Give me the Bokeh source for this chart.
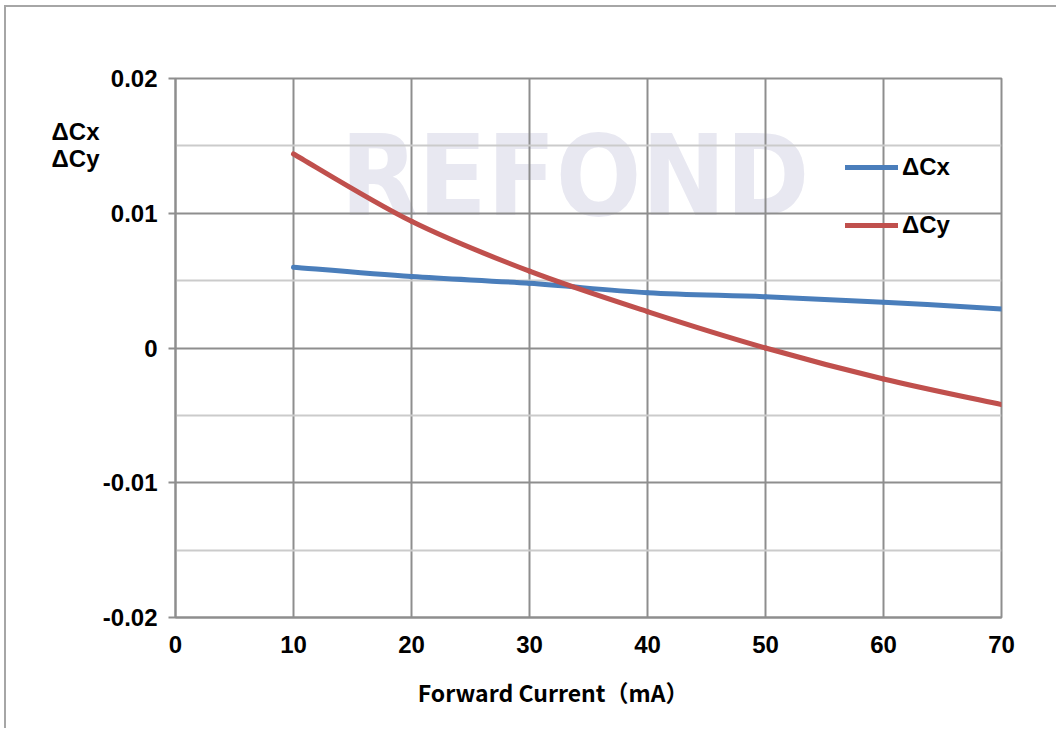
from bokeh.plotting import figure
from bokeh.models import Range1d, FixedTicker, Label, Legend, LegendItem, LinearAxis
from bokeh.embed import file_html
from bokeh.resources import INLINE

# ---- data ----
current = [10, 20, 30, 40, 50, 60, 70]
dcx = [0.0060, 0.0053, 0.0048, 0.0041, 0.0038, 0.0034, 0.0029]
dcy = [0.0144, 0.0094, 0.0057, 0.0027, 0.0000, -0.0023, -0.0042]
x_ticks = [0, 10, 20, 30, 40, 50, 60, 70]
y_ticks = [-0.02, -0.01, 0.0, 0.01, 0.02]
y_minor = [-0.015, -0.005, 0.005, 0.015]
y_tick_labels = ["-0.02", "-0.01", "0", "0.01", "0.02"]
series_names = ["ΔCx", "ΔCy"]
y_title_pos = [0.01607, 0.01406]
x_title = "Forward Current（mA）"
x_title_pos = 32.0
watermark = "REFOND"

BLUE = "#4a7ebb"
RED = "#c0504d"
GRID = "#8e8e8e"
MINOR = "#cbcbcb"
EDGE = "#a6a6a6"
FONT = "Liberation Sans"


def smooth(xs, ys):
    n = len(xs)
    x0s, y0s, x1s, y1s, cx0, cy0, cx1, cy1 = [], [], [], [], [], [], [], []
    for i in range(n - 1):
        a = max(i - 1, 0)
        d = min(i + 2, n - 1)
        x0s.append(xs[i]); y0s.append(ys[i])
        x1s.append(xs[i + 1]); y1s.append(ys[i + 1])
        cx0.append(xs[i] + (xs[i + 1] - xs[a]) / 6.0)
        cy0.append(ys[i] + (ys[i + 1] - ys[a]) / 6.0)
        cx1.append(xs[i + 1] - (xs[d] - xs[i]) / 6.0)
        cy1.append(ys[i + 1] - (ys[d] - ys[i]) / 6.0)
    return dict(x0=x0s, y0=y0s, x1=x1s, y1=y1s, cx0=cx0, cy0=cy0, cx1=cx1, cy1=cy1)


p = figure(
    frame_width=826, frame_height=539,
    min_border_left=175, min_border_top=78, min_border_right=55, min_border_bottom=111,
    x_range=Range1d(0, 70), y_range=Range1d(-0.02, 0.02),
    output_backend="svg", toolbar_location=None,
)
p.styles = {
    "background": (f"linear-gradient({EDGE},{EDGE}) 4px 5px / 2px 100% no-repeat, "
                   f"linear-gradient({EDGE},{EDGE}) 4px 5px / 100% 2px no-repeat, white"),
}
p.background_fill_color = "white"
p.border_fill_alpha = 0
p.outline_line_color = GRID
p.outline_line_width = 2

# watermark
p.add_layout(Label(x=13.98, y=0.0128, text=watermark, text_font="DejaVu Sans Condensed",
                   text_font_style="bold", text_font_size="112px", text_color="#e8e8f1",
                   text_baseline="middle", text_align="left", level="image"))

# axes
p.xaxis.ticker = FixedTicker(ticks=x_ticks)
p.yaxis.ticker = FixedTicker(ticks=y_ticks, minor_ticks=y_minor)
p.yaxis.major_label_overrides = {t: l for t, l in zip(y_ticks, y_tick_labels)}
for ax in (p.xaxis[0], p.yaxis[0]):
    ax.axis_line_color = GRID
    ax.axis_line_width = 2
    ax.major_tick_line_color = GRID
    ax.major_tick_line_width = 2
    ax.minor_tick_line_color = None
    ax.major_label_text_font = FONT
    ax.major_label_text_font_style = "bold"
    ax.major_label_text_font_size = "24px"
    ax.major_label_text_color = "black"
p.xaxis.major_tick_in = 0
p.xaxis.major_tick_out = 0
p.xaxis.major_label_standoff = 18
p.yaxis.major_tick_in = 0
p.yaxis.major_tick_out = 7
p.yaxis.major_label_standoff = 11

# y title (ΔCx / ΔCy) as an outer left axis carrying only these two labels
ytitle = LinearAxis(ticker=FixedTicker(ticks=y_title_pos),
                    major_label_overrides={t: s for t, s in zip(y_title_pos, series_names)},
                    axis_line_color=None, major_tick_line_color=None, minor_tick_line_color=None,
                    major_tick_in=0, major_tick_out=0, major_label_standoff=0,
                    major_label_text_font=FONT, major_label_text_font_style="bold",
                    major_label_text_font_size="24px", major_label_text_color="black")
p.add_layout(ytitle, "left")

# x title as an outer bottom axis carrying one label
xtitle = LinearAxis(ticker=FixedTicker(ticks=[x_title_pos]),
                    major_label_overrides={x_title_pos: x_title},
                    axis_line_color=None, major_tick_line_color=None, minor_tick_line_color=None,
                    major_tick_in=0, major_tick_out=0, major_label_standoff=19,
                    major_label_text_font="Noto Sans CJK SC", major_label_text_font_style="bold",
                    major_label_text_font_size="23px", major_label_text_color="black")
p.add_layout(xtitle, "below")

p.xgrid.grid_line_color = GRID
p.xgrid.grid_line_width = 2
p.ygrid.grid_line_color = GRID
p.ygrid.grid_line_width = 2
p.ygrid.minor_grid_line_color = MINOR
p.ygrid.minor_grid_line_width = 2

# curves
colors = [BLUE, RED]
legend_items = []
for name, ys, c in zip(series_names, [dcx, dcy], colors):
    p.bezier(source=smooth(current, ys), x0="x0", y0="y0", x1="x1", y1="y1",
             cx0="cx0", cy0="cy0", cx1="cx1", cy1="cy1",
             line_color=c, line_width=5, line_cap="round")
    proxy = p.line(x=current[:1], y=ys[:1], line_color=c, line_width=5, line_cap="round")
    legend_items.append(LegendItem(label=name, renderers=[proxy]))

legend = Legend(items=legend_items, location=(670, 378), glyph_width=53, glyph_height=26,
                label_height=26, spacing=30, padding=0, margin=0, label_standoff=4,
                background_fill_alpha=0, border_line_color=None,
                label_text_font=FONT, label_text_font_style="bold",
                label_text_font_size="24px", label_text_color="black")
p.add_layout(legend)

open("out.html", "w").write(file_html(p, INLINE))
